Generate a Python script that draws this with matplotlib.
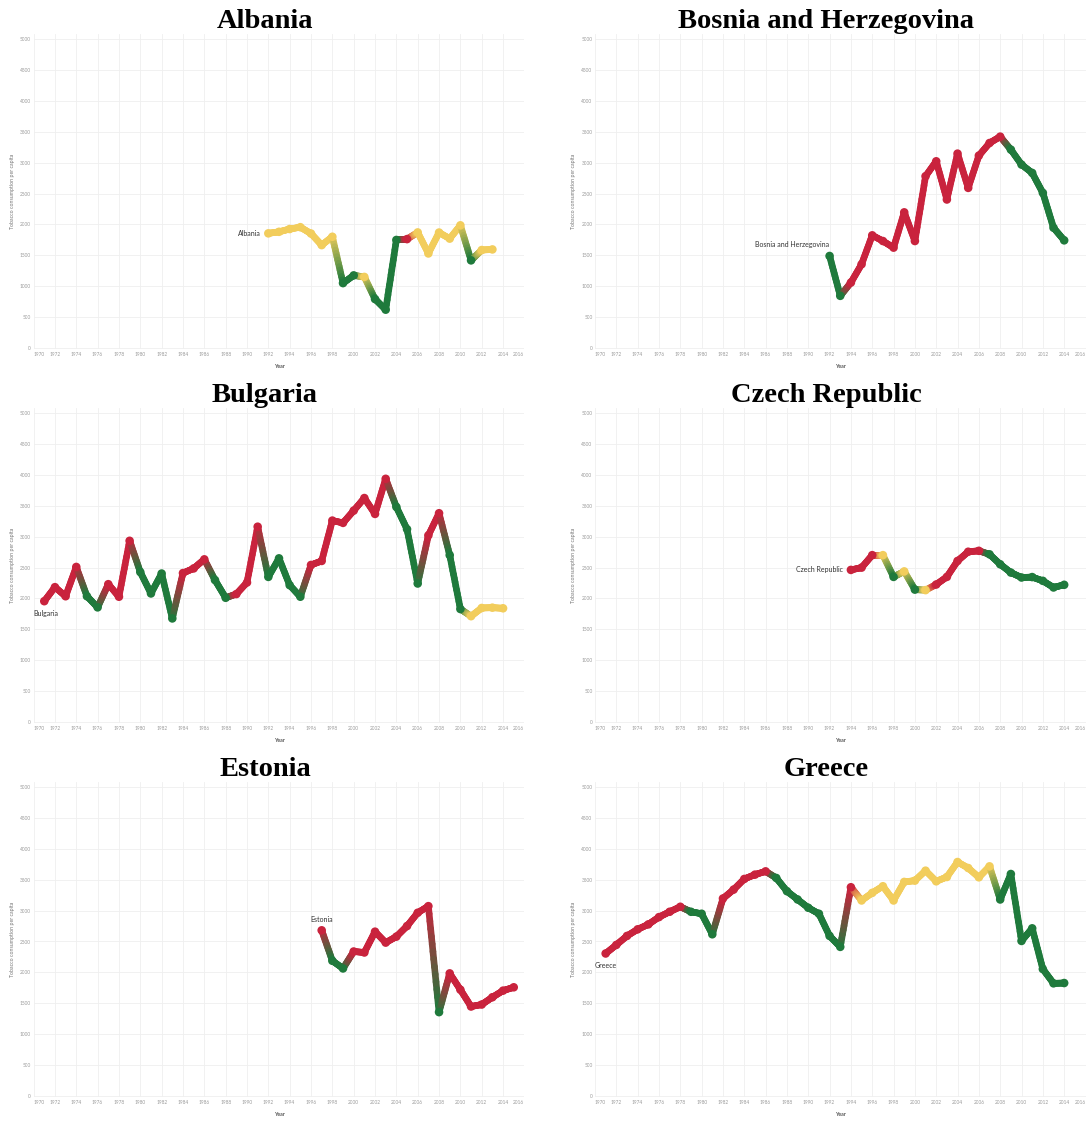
import numpy as np
import matplotlib.pyplot as plt
from matplotlib.collections import LineCollection
from matplotlib.colors import to_rgb

plt.rcParams['font.family'] = ['Lato', 'DejaVu Sans']

# r = rising, g = falling, y = steady (colour per point)
palette = {'r': '#C9233D', 'g': '#1F7A3C', 'y': '#F2CD5C'}

albania_start = 1992
albania_values = [1855, 1880, 1925, 1955, 1852, 1665, 1800, 1050, 1175, 1150, 792,
                  620, 1748, 1762, 1870, 1530, 1868, 1770, 1985, 1418, 1585, 1595]
albania_codes = 'yyyyyyyggygggryyyyygyy'

bosnia_start = 1992
bosnia_values = [1489, 844, 1059, 1355, 1823, 1731, 1624, 2195, 1731, 2780, 3021, 2403,
                 3145, 2591, 3113, 3317, 3420, 3210, 2968, 2833, 2510, 1946, 1742]
bosnia_codes = 'gg' + 'r' * 15 + 'g' * 6

bulgaria_start = 1971
bulgaria_values = [1955, 2182, 2035, 2509, 2035, 1855, 2230, 2027, 2932, 2426, 2080,
                   2402, 1676, 2410, 2485, 2632, 2297, 2010, 2070, 2257, 3160, 2348,
                   2648, 2214, 2027, 2541, 2606, 3259, 3222, 3420, 3624, 3367, 3935,
                   3480, 3120, 2241, 3020, 3378, 2700, 1828, 1712, 1845, 1850, 1840]
bulgaria_codes = 'rrrrggrrrggggrrrggrrrggggrrrrrrrrgggrrggyyyy'

czech_start = 1994
czech_values = [2461, 2498, 2700, 2700, 2348, 2437, 2142, 2134, 2225, 2348, 2606,
                2755, 2770, 2713, 2552, 2418, 2338, 2345, 2284, 2177, 2220]
czech_codes = 'rrrygygyrrrrrgggggggg'

estonia_start = 1997
estonia_values = [2681, 2188, 2064, 2338, 2322, 2659, 2482, 2579, 2750, 2965, 3072,
                  1357, 1984, 1720, 1448, 1480, 1598, 1705, 1759]
estonia_codes = 'rggrrrrrrrrg' + 'r' * 7

greece_start = 1971
greece_values = [2306, 2445, 2590, 2697, 2777, 2895, 2981, 3062, 2981, 2949, 2617,
                 3196, 3340, 3512, 3582, 3635, 3528, 3314, 3180, 3046, 2949, 2590,
                 2413, 3378, 3164, 3287, 3394, 3164, 3464, 3485, 3646, 3474, 3544,
                 3786, 3689, 3539, 3716, 3180, 3592, 2509, 2713, 2054, 1823, 1828]
greece_codes = 'r' * 8 + 'g' * 3 + 'r' * 5 + 'g' * 7 + 'r' + 'y' * 13 + 'g' * 7

countries = ['Albania', 'Bosnia and Herzegovina', 'Bulgaria',
             'Czech Republic', 'Estonia', 'Greece']
series = [(albania_start, albania_values, albania_codes),
          (bosnia_start, bosnia_values, bosnia_codes),
          (bulgaria_start, bulgaria_values, bulgaria_codes),
          (czech_start, czech_values, czech_codes),
          (estonia_start, estonia_values, estonia_codes),
          (greece_start, greece_values, greece_codes)]

# where the name sits next to the first point: (dx pt, dy pt, ha, va)
label_style = [(-5.5, 0, 'right', 'center'),
               (0, 6, 'right', 'bottom'),
               (1, -6, 'center', 'top'),
               (-5.5, 0, 'right', 'center'),
               (0, 5, 'center', 'bottom'),
               (0, -6, 'center', 'top')]

year_ticks = list(range(1970, 2017, 2))
value_ticks = list(range(0, 5001, 500))


def draw_country(ax, years, values, codes):
    rgb = np.array([to_rgb(palette[c]) for c in codes])
    segs = []
    cols = []
    steps = 14
    for i in range(len(values) - 1):
        for k in range(steps):
            a = k / steps
            b = (k + 1) / steps
            x0 = years[i] + a * (years[i + 1] - years[i])
            x1 = years[i] + b * (years[i + 1] - years[i])
            y0 = values[i] + a * (values[i + 1] - values[i])
            y1 = values[i] + b * (values[i + 1] - values[i])
            segs.append([(x0, y0), (x1, y1)])
            m = (a + b) / 2
            cols.append(rgb[i] * (1 - m) + rgb[i + 1] * m)
    lc = LineCollection(segs, colors=cols, linewidths=4.8,
                        capstyle='round', joinstyle='round', zorder=2)
    ax.add_collection(lc)
    ax.scatter(years, values, s=38, c=rgb, linewidths=0, zorder=3)


W, H = 1086, 1130
fig = plt.figure(figsize=(W / 100, H / 100), dpi=100)

x_edges = [(33.6, 524.4), (595.0, 1085.5)]
title_x = [265, 826]
ylab_x = [12, 573.5]
px_per_unit = 309 / 5000
y_lo, y_hi = -15, 5080

for idx, name in enumerate(countries):
    row, col = idx // 2, idx % 2
    zero_px = 348 + 374 * row
    top_px = zero_px - (y_hi) * px_per_unit
    bot_px = zero_px - y_lo * px_per_unit
    xl, xr = x_edges[col]
    ax = fig.add_axes([xl / W, 1 - bot_px / H, (xr - xl) / W, (bot_px - top_px) / H])

    start, values, codes = series[idx]
    years = list(range(start, start + len(values)))
    draw_country(ax, years, values, codes)

    dx, dy, ha, va = label_style[idx]
    ax.annotate(name, (years[0], values[0]), xytext=(dx, dy), textcoords='offset points',
                ha=ha, va=va, fontsize=5, color='#333333', zorder=4)

    ax.set_xlim(1970, 2016)
    ax.set_ylim(y_lo, y_hi)
    ax.set_xticks(year_ticks)
    ax.set_xticklabels([str(y) for y in year_ticks])
    labels = ax.get_xticklabels()
    labels[0].set_ha('left')
    labels[-1].set_ha('right')
    ax.set_yticks(value_ticks)
    ax.set_yticklabels([str(v) for v in value_ticks])
    ax.tick_params(axis='x', length=0, pad=2.5, labelsize=3.4, labelcolor='#9a9a9a')
    ax.tick_params(axis='y', length=0, pad=1.8, labelsize=3.4, labelcolor='#9a9a9a')
    ax.grid(True, color='#efefef', linewidth=0.6)
    ax.set_axisbelow(True)
    for s in ax.spines.values():
        s.set_visible(False)

    h_px = bot_px - top_px
    w_px = xr - xl
    ax.set_xlabel('Year', fontsize=3.8, fontweight='bold', color='#555555')
    ax.xaxis.set_label_coords(0.5, -(zero_px + 19 - bot_px) / h_px)
    ax.xaxis.label.set_va('center')
    ax.set_ylabel('Tobacco consumption per capita', fontsize=3.8, color='#777777')
    ax.yaxis.set_label_coords((ylab_x[col] - xl) / w_px, 0.5)
    ax.yaxis.label.set_va('center')

    fig.text(title_x[col] / W, 1 - (28 + 374 * row) / H, name, ha='center', va='baseline',
             fontsize=20.5, fontweight='bold', family='Liberation Serif', color='black')

fig.savefig('out.png', dpi=100)
